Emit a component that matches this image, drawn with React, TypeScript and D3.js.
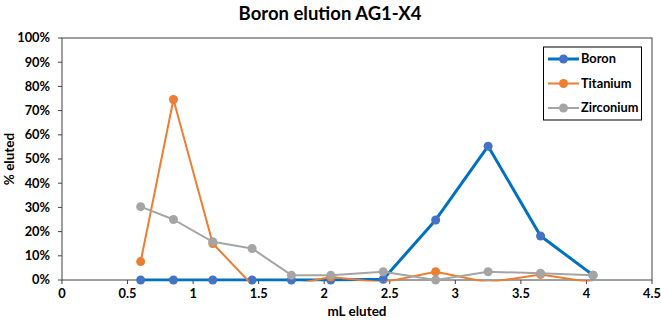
import * as d3 from 'd3';
import React from 'react';

const width = 661;
const height = 325;
const margin = { top: 38, right: 9, bottom: 45, left: 62 };

const mlEluted = [0.6, 0.85, 1.15, 1.45, 1.75, 2.05, 2.45, 2.85, 3.25, 3.65, 4.05];
const boron = [0, 0, 0, 0, 0, 0, 0.3, 24.8, 55.3, 18.2, 2];
const titanium = [7.6, 74.6, 15.1, -2, -2, 1.2, -1, 3.4, -1, 2.3, -1];
const zirconium = [30.3, 25, 15.8, 13, 2, 2, 3.4, 0, 3.4, 2.8, 2];

const xTicks = [0, 0.5, 1, 1.5, 2, 2.5, 3, 3.5, 4, 4.5];
const yTicks = [0, 10, 20, 30, 40, 50, 60, 70, 80, 90, 100];

const series = [
  { name: 'Boron', values: boron, line: '#0070C0', marker: '#4472C4', lw: 3 },
  { name: 'Titanium', values: titanium, line: '#ED7D31', marker: '#ED7D31', lw: 2 },
  { name: 'Zirconium', values: zirconium, line: '#A5A5A5', marker: '#A5A5A5', lw: 2 },
];

const font = 'Lato, "Open Sans", sans-serif';

const App = () => {
  const xScale = d3.scaleLinear().domain([0, 4.5]).range([margin.left, width - margin.right]);
  const yScale = d3.scaleLinear().domain([0, 100]).range([height - margin.bottom, margin.top]);
  const lineGenerator = d3.line<number>()
    .x((d, i) => xScale(mlEluted[i]))
    .y(d => yScale(d));

  const x0 = xScale(0);
  const y0 = yScale(0);

  return (
    <svg width={width} height={height} style={{ position: 'absolute', left: 0, top: 0 }} fontFamily={font}>
      <defs>
        <clipPath id='plotClip'>
          <rect x={x0} y={yScale(100) - 6} width={xScale(4.5) - x0} height={y0 - yScale(100) + 7.5} />
        </clipPath>
      </defs>
      <rect width={width} height={height} fill='#fff' />
      <text x={330} y={20} textAnchor='middle' fontSize='18.5' fontWeight='700' fill='#000'>Boron elution AG1-X4</text>

      {/* frame */}
      <rect x={x0} y={yScale(100)} width={xScale(4.5) - x0} height={y0 - yScale(100)} fill='none' stroke='#404040' strokeWidth='1' />

      {/* y ticks */}
      {yTicks.map(t => (
        <g key={'y' + t}>
          <line x1={x0 - 4} x2={x0} y1={yScale(t)} y2={yScale(t)} stroke='#404040' />
          <text x={x0 - 12} y={yScale(t)} dy='0.35em' textAnchor='end' fontSize='12.8' fontWeight='700'>{t + '%'}</text>
        </g>
      ))}
      {/* x ticks */}
      {xTicks.map(t => (
        <g key={'x' + t}>
          <line x1={xScale(t)} x2={xScale(t)} y1={y0} y2={y0 + 4} stroke='#404040' />
          <text x={xScale(t)} y={y0 + 18} textAnchor='middle' fontSize='12.8' fontWeight='700'>{t}</text>
        </g>
      ))}

      <text x={xScale(2.25)} y={316} textAnchor='middle' fontSize='13.5' fontWeight='700'>mL eluted</text>
      <text transform={`translate(14, ${yScale(50)}) rotate(-90)`} textAnchor='middle' fontSize='13.5' fontWeight='700'>% eluted</text>

      {series.map(s => (
        <g key={s.name}>
          <path d={lineGenerator(s.values) || ''} fill='none' stroke={s.line} strokeWidth={s.lw} strokeLinejoin='round' clipPath='url(#plotClip)' />
          {s.values.map((v, i) => v >= 0 ? (
            <circle key={i} cx={xScale(mlEluted[i])} cy={yScale(v)} r={4.5} fill={s.marker} />
          ) : null)}
        </g>
      ))}

      {/* legend */}
      <g>
        <rect x={543.5} y={47} width={98} height={73} fill='#fff' stroke='#000' strokeWidth='1' />
        {series.map((s, i) => {
          const ly = 59 + i * 24.5;
          return (
            <g key={'lg' + s.name}>
              <line x1={548} x2={579} y1={ly} y2={ly} stroke={s.line} strokeWidth={s.lw} />
              <circle cx={563.5} cy={ly} r={4.5} fill={s.marker} />
              <text x={581} y={ly} dy='0.35em' fontSize='12.8' fontWeight='700'>{s.name}</text>
            </g>
          );
        })}
      </g>
    </svg>
  );
};

export default App;
